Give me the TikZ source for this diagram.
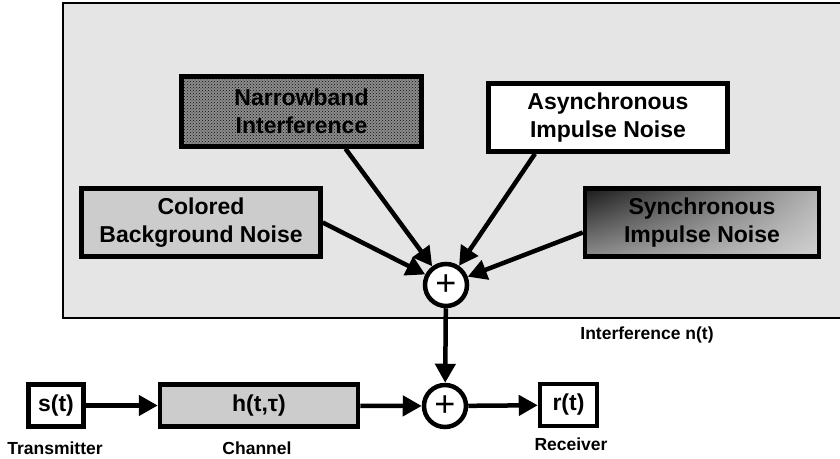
\documentclass[tikz,border=0pt]{standalone}
\usepackage{fontspec}
\setmainfont{Liberation Sans}
\usetikzlibrary{arrows.meta,patterns,shadings}

\tikzset{
  blk/.style={draw, line width=4.5pt, align=center, inner sep=0pt,
    font=\fontsize{23}{28}\selectfont\bfseries},
  sumnode/.style={draw, circle, line width=4.5pt, fill=white, inner sep=0pt,
    minimum size=42pt, font=\fontsize{36}{36}\selectfont},
  lbl/.style={font=\fontsize{17.5}{19}\selectfont\bfseries},
  flow/.style={line width=4.5pt, -{Triangle[length=19pt,width=20pt]}}
}

\begin{document}
\begin{tikzpicture}[x=1pt,y=-1pt]
		%%%%% START %%%%%
		\useasboundingbox (0,0) rectangle (840,458);
		
		\draw[line width=1.8pt, fill=black!10] (63,3) rectangle (842,318);
		
		\node[blk, minimum width=240pt, minimum height=70pt,
		  preaction={fill=black!45}, pattern=crosshatch dots, pattern color=black!95]
		  (nb) at (301.5,111.5) {Narrowband\\Interference};
		\node[blk, fill=white, minimum width=239pt, minimum height=68pt]
		  (ai) at (608,117.5) {Asynchronous\\Impulse Noise};
		\node[blk, fill=black!20, minimum width=239pt, minimum height=68pt]
		  (cb) at (201,222.5) {Colored\\Background Noise};
		\node[blk, minimum width=234pt, minimum height=68pt,
		  upper left=black!90, upper right=black!30, lower left=black!45, lower right=black!18]
		  (si) at (702,222.5) {Synchronous\\Impulse Noise};
		
		\node[sumnode] (sum1) at (446,285) {+};
		\node[sumnode] (sum2) at (445,406) {+};
		
		\node[blk, fill=white, minimum width=55pt, minimum height=42pt] (s) at (56,405.5) {s(t)};
		\node[blk, fill=black!20, minimum width=198pt, minimum height=42pt] (h) at (259,405.5) {h(t,τ)};
		\node[blk, fill=white, minimum width=57pt, minimum height=42pt] (r) at (568.5,405) {r(t)};
		
		\node[lbl] (tx) at (55,448) {Transmitter};
		\node[lbl] (ch) at (257,448) {Channel};
		\node[lbl] (rx) at (571,444) {Receiver};
		\node[lbl] (nt) at (647,335) {Interference n(t)};
		
		\draw[flow] ([xshift=44pt]nb.south) -- (sum1);
		\draw[flow] ([xshift=-73pt]ai.south) -- (sum1);
		\draw[flow] (cb.east) -- (sum1);
		\draw[flow] ([yshift=-10pt]si.west) -- (sum1);
		\draw[flow] (sum1) -- (sum2);
		
		\draw[flow] (s) -- (h);
		\draw[flow] (h) -- (sum2);
		\draw[flow] (sum2) -- (r);
		
		%%%%% END %%%%%
\end{tikzpicture}
\end{document}
